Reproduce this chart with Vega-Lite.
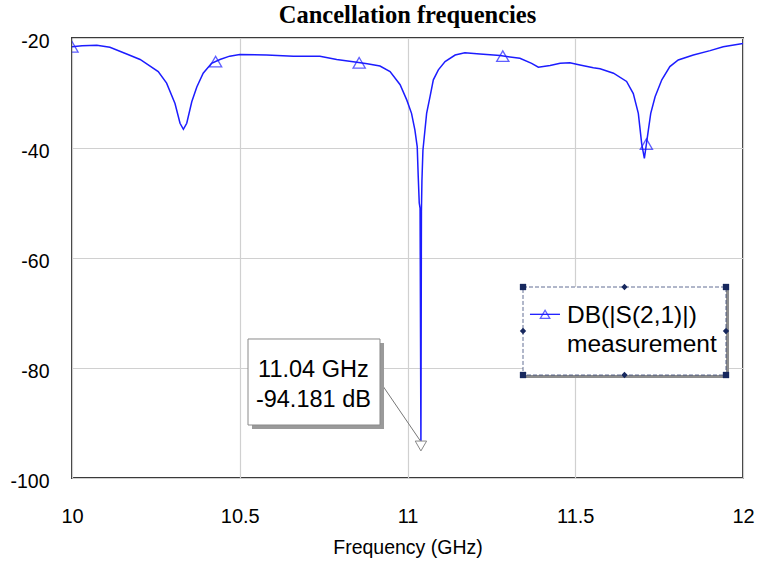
{
  "$schema": "https://vega.github.io/schema/vega-lite/v6.json",
  "width": 671,
  "height": 440,
  "autosize": "none",
  "padding": {"left": 72, "top": 38, "right": 14, "bottom": 85},
  "background": "white",
  "title": {
    "text": "Cancellation frequencies",
    "font": "Liberation Serif",
    "fontSize": 24.5,
    "fontWeight": "bold",
    "color": "black",
    "anchor": "middle",
    "offset": 3
  },
  "config": {
    "view": {"stroke": "#3a3a3a", "strokeWidth": 2},
    "axis": {
      "labelFont": "Liberation Sans",
      "titleFont": "Liberation Sans",
      "labelColor": "black",
      "titleColor": "black",
      "ticks": false,
      "domain": false,
      "gridColor": "#d0d0d0",
      "gridWidth": 1.2,
      "gridOpacity": 1
    }
  },
  "datasets": {
    "trace": [
      {"f": 10.0, "db": -21.6}, {"f": 10.03, "db": -21.4}, {"f": 10.074, "db": -21.3},
      {"f": 10.113, "db": -21.7}, {"f": 10.163, "db": -22.9}, {"f": 10.203, "db": -23.9},
      {"f": 10.257, "db": -26.1}, {"f": 10.282, "db": -28.2}, {"f": 10.307, "db": -31.9},
      {"f": 10.322, "db": -35.5}, {"f": 10.332, "db": -36.6}, {"f": 10.342, "db": -35.5},
      {"f": 10.357, "db": -31.6}, {"f": 10.372, "db": -28.9}, {"f": 10.391, "db": -26.4},
      {"f": 10.416, "db": -24.6}, {"f": 10.441, "db": -23.9}, {"f": 10.47, "db": -23.3},
      {"f": 10.5, "db": -23.0}, {"f": 10.58, "db": -23.1}, {"f": 10.66, "db": -23.3},
      {"f": 10.739, "db": -23.3}, {"f": 10.789, "db": -23.9}, {"f": 10.849, "db": -24.4},
      {"f": 10.88, "db": -24.7}, {"f": 10.918, "db": -25.1}, {"f": 10.948, "db": -26.1},
      {"f": 10.978, "db": -28.5}, {"f": 10.998, "db": -31.3}, {"f": 11.012, "db": -33.7},
      {"f": 11.022, "db": -36.7}, {"f": 11.029, "db": -39.8}, {"f": 11.032, "db": -45.2},
      {"f": 11.035, "db": -50.0}, {"f": 11.0375, "db": -51.0}, {"f": 11.04, "db": -94.181},
      {"f": 11.0415, "db": -51.6}, {"f": 11.043, "db": -46.0}, {"f": 11.046, "db": -40.4},
      {"f": 11.057, "db": -33.7}, {"f": 11.067, "db": -30.7}, {"f": 11.077, "db": -27.6},
      {"f": 11.092, "db": -25.8}, {"f": 11.112, "db": -24.3}, {"f": 11.142, "db": -23.1},
      {"f": 11.171, "db": -22.7}, {"f": 11.216, "db": -22.9}, {"f": 11.276, "db": -23.2},
      {"f": 11.335, "db": -23.7}, {"f": 11.37, "db": -24.6}, {"f": 11.39, "db": -25.3},
      {"f": 11.425, "db": -25.0}, {"f": 11.455, "db": -24.6}, {"f": 11.484, "db": -24.5},
      {"f": 11.514, "db": -24.9}, {"f": 11.554, "db": -25.4}, {"f": 11.574, "db": -25.6},
      {"f": 11.614, "db": -26.4}, {"f": 11.653, "db": -27.9}, {"f": 11.673, "db": -30.1},
      {"f": 11.688, "db": -33.7}, {"f": 11.698, "db": -39.2}, {"f": 11.706, "db": -41.9},
      {"f": 11.712, "db": -39.3}, {"f": 11.718, "db": -36.7}, {"f": 11.725, "db": -33.7},
      {"f": 11.738, "db": -30.7}, {"f": 11.758, "db": -27.6}, {"f": 11.782, "db": -25.2},
      {"f": 11.807, "db": -24.0}, {"f": 11.852, "db": -23.1}, {"f": 11.902, "db": -22.3},
      {"f": 11.941, "db": -21.6}, {"f": 12.0, "db": -21.0}
    ],
    "markers": [
      {"f": 10.0, "db": -21.6}, {"f": 10.428, "db": -24.3}, {"f": 10.856, "db": -24.5},
      {"f": 11.284, "db": -23.3}, {"f": 11.712, "db": -39.3}
    ],
    "minimum": [{"f": 11.04, "db": -94.181}],
    "leader": [{"f": 10.927, "db": -83.3, "f2": 11.04, "db2": -93.4}],
    "callout_box": [
      {"part": "shadow", "f1": 10.5365, "f2": 10.93, "db1": -75.455, "db2": -91.091},
      {"part": "box", "f1": 10.5246, "f2": 10.918, "db1": -74.727, "db2": -90.364}
    ],
    "callout_text": [
      {"f": 10.7195, "db": -81.58, "text": "11.04 GHz"},
      {"f": 10.7195, "db": -87.04, "text": "-94.181 dB"}
    ],
    "legend_box": [
      {"part": "shadow", "f1": 11.3532, "f2": 11.9583, "db1": -65.818, "db2": -81.818},
      {"part": "box", "f1": 11.3443, "f2": 11.9493, "db1": -65.273, "db2": -81.273}
    ],
    "legend_line": [{"f": 11.365, "db": -70.24}, {"f": 11.4545, "db": -70.24}],
    "legend_symbol": [{"f": 11.41, "db": -70.24}],
    "legend_text": [
      {"f": 11.4754, "db": -71.87, "text": "DB(|S(2,1)|)"},
      {"f": 11.4754, "db": -77.04, "text": "measurement"}
    ],
    "handles": [
      {"f": 11.3443, "db": -65.273, "kind": "corner"},
      {"f": 11.9493, "db": -65.273, "kind": "corner"},
      {"f": 11.3443, "db": -81.273, "kind": "corner"},
      {"f": 11.9493, "db": -81.273, "kind": "corner"},
      {"f": 11.6468, "db": -65.273, "kind": "mid"},
      {"f": 11.3443, "db": -73.273, "kind": "mid"},
      {"f": 11.9493, "db": -73.273, "kind": "mid"},
      {"f": 11.6468, "db": -81.273, "kind": "mid"}
    ]
  },
  "layer": [
    {
      "data": {"name": "trace"},
      "mark": {"type": "line", "color": "#1c1cff", "strokeWidth": 1.5, "clip": true},
      "encoding": {
        "x": {
          "field": "f", "type": "quantitative",
          "scale": {"domain": [10, 12], "nice": false, "zero": false},
          "axis": {
            "values": [10, 10.5, 11, 11.5, 12],
            "format": "~g",
            "title": "Frequency (GHz)",
            "labelFontSize": 20,
            "titleFontSize": 19.5,
            "titleFontWeight": "normal",
            "labelPadding": 28,
            "titlePadding": 12,
            "labelFlush": false
          }
        },
        "y": {
          "field": "db", "type": "quantitative",
          "scale": {"domain": [-100, -20], "nice": false, "zero": false},
          "axis": {
            "values": [-100, -80, -60, -40, -20],
            "labelExpr": "'-' + abs(datum.value)",
            "title": null,
            "labelFontSize": 19.5,
            "labelPadding": 23,
            "labelOffset": 3,
            "labelFlush": false
          }
        }
      }
    },
    {
      "data": {"name": "markers"},
      "mark": {"type": "point", "shape": "triangle-up", "filled": false, "color": "#1c1cff", "size": 150, "strokeWidth": 1.3, "clip": true},
      "encoding": {
        "x": {"field": "f", "type": "quantitative"},
        "y": {"field": "db", "type": "quantitative"}
      }
    },
    {
      "data": {"name": "leader"},
      "mark": {"type": "rule", "color": "#777777", "strokeWidth": 1},
      "encoding": {
        "x": {"field": "f", "type": "quantitative"},
        "y": {"field": "db", "type": "quantitative"},
        "x2": {"field": "f2"},
        "y2": {"field": "db2"}
      }
    },
    {
      "data": {"name": "minimum"},
      "mark": {"type": "point", "shape": "triangle-down", "filled": true, "fill": "white", "stroke": "#888888", "strokeWidth": 1, "size": 130, "opacity": 1},
      "encoding": {
        "x": {"field": "f", "type": "quantitative"},
        "y": {"field": "db", "type": "quantitative"}
      }
    },
    {
      "data": {"name": "callout_box"},
      "transform": [{"filter": "datum.part === 'shadow'"}],
      "mark": {"type": "rect", "fill": "#9a9a9a"},
      "encoding": {
        "x": {"field": "f1", "type": "quantitative"},
        "x2": {"field": "f2"},
        "y": {"field": "db1", "type": "quantitative"},
        "y2": {"field": "db2"}
      }
    },
    {
      "data": {"name": "callout_box"},
      "transform": [{"filter": "datum.part === 'box'"}],
      "mark": {"type": "rect", "fill": "white", "stroke": "#8a8a8a", "strokeWidth": 1},
      "encoding": {
        "x": {"field": "f1", "type": "quantitative"},
        "x2": {"field": "f2"},
        "y": {"field": "db1", "type": "quantitative"},
        "y2": {"field": "db2"}
      }
    },
    {
      "data": {"name": "callout_text"},
      "mark": {"type": "text", "font": "Liberation Sans", "fontSize": 23.5, "color": "black", "align": "center", "baseline": "alphabetic"},
      "encoding": {
        "x": {"field": "f", "type": "quantitative"},
        "y": {"field": "db", "type": "quantitative"},
        "text": {"field": "text"}
      }
    },
    {
      "data": {"name": "legend_box"},
      "transform": [{"filter": "datum.part === 'shadow'"}],
      "mark": {"type": "rect", "fill": "#8c8c8c"},
      "encoding": {
        "x": {"field": "f1", "type": "quantitative"},
        "x2": {"field": "f2"},
        "y": {"field": "db1", "type": "quantitative"},
        "y2": {"field": "db2"}
      }
    },
    {
      "data": {"name": "legend_box"},
      "transform": [{"filter": "datum.part === 'box'"}],
      "mark": {"type": "rect", "fill": "white", "stroke": "#3a4a78", "strokeWidth": 0.8, "strokeDash": [4, 2]},
      "encoding": {
        "x": {"field": "f1", "type": "quantitative"},
        "x2": {"field": "f2"},
        "y": {"field": "db1", "type": "quantitative"},
        "y2": {"field": "db2"}
      }
    },
    {
      "data": {"name": "legend_line"},
      "mark": {"type": "line", "color": "#1c1cff", "strokeWidth": 1.3},
      "encoding": {
        "x": {"field": "f", "type": "quantitative"},
        "y": {"field": "db", "type": "quantitative"}
      }
    },
    {
      "data": {"name": "legend_symbol"},
      "mark": {"type": "point", "shape": "triangle-up", "filled": false, "color": "#1c1cff", "size": 90, "strokeWidth": 1.3},
      "encoding": {
        "x": {"field": "f", "type": "quantitative"},
        "y": {"field": "db", "type": "quantitative"}
      }
    },
    {
      "data": {"name": "legend_text"},
      "mark": {"type": "text", "font": "Liberation Sans", "fontSize": 24.5, "color": "black", "align": "left", "baseline": "alphabetic"},
      "encoding": {
        "x": {"field": "f", "type": "quantitative"},
        "y": {"field": "db", "type": "quantitative"},
        "text": {"field": "text"}
      }
    },
    {
      "data": {"name": "handles"},
      "mark": {"type": "point", "filled": true, "color": "#17285e", "opacity": 1, "size": 40},
      "encoding": {
        "x": {"field": "f", "type": "quantitative"},
        "y": {"field": "db", "type": "quantitative"},
        "shape": {
          "field": "kind", "type": "nominal",
          "scale": {"domain": ["corner", "mid"], "range": ["square", "diamond"]},
          "legend": null
        }
      }
    }
  ]
}
